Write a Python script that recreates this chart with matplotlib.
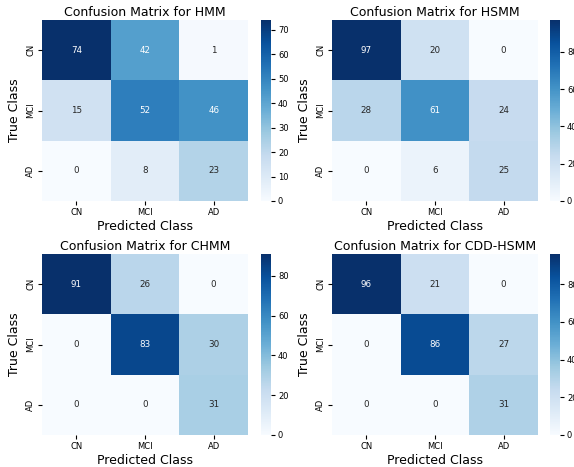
import matplotlib
matplotlib.use("Agg")
import matplotlib.pyplot as plt
import seaborn as sns
import numpy as np

classes = ["CN", "MCI", "AD"]
titles = ["HMM", "HSMM", "CHMM", "CDD-HSMM"]
cm_hmm = [[74, 42, 1], [15, 52, 46], [0, 8, 23]]
cm_hsmm = [[97, 20, 0], [28, 61, 24], [0, 6, 25]]
cm_chmm = [[91, 26, 0], [0, 83, 30], [0, 0, 31]]
cm_cdd = [[96, 21, 0], [0, 86, 27], [0, 0, 31]]
matrices = [cm_hmm, cm_hsmm, cm_chmm, cm_cdd]

W, H = 574, 467
fig = plt.figure(figsize=(W / 100, H / 100), dpi=100)

def rect(x0, y0, x1, y1):
    return [x0 / W, (H - y1) / H, (x1 - x0) / W, (y1 - y0) / H]

layout = [
    ((42, 20, 248, 201), (261, 20, 271, 201)),
    ((332, 20, 538, 201), (550, 20, 560, 201)),
    ((42, 254, 248, 435), (261, 254, 271, 435)),
    ((332, 254, 538, 435), (550, 254, 560, 435)),
]

for mat, title, (hr, cr) in zip(matrices, titles, layout):
    ax = fig.add_axes(rect(*hr))
    cax = fig.add_axes(rect(*cr))
    sns.heatmap(np.array(mat), annot=True, fmt="d", cmap="Blues", ax=ax,
                cbar_ax=cax, xticklabels=classes, yticklabels=classes,
                annot_kws={"fontsize": 6.3})
    ax.set_title(f"Confusion Matrix for {title}", fontsize=9, pad=3)
    ax.set_xlabel("Predicted Class", fontsize=9, labelpad=2)
    ax.set_ylabel("True Class", fontsize=9, labelpad=4)
    ax.tick_params(axis="both", labelsize=6, length=3, width=0.8, pad=2)
    plt.setp(ax.get_yticklabels(), rotation=90, va="center")
    plt.setp(ax.get_xticklabels(), rotation=0)
    cax.tick_params(labelsize=6, length=3, width=0.8, pad=2)
    for sp in cax.spines.values():
        sp.set_visible(False)

fig.savefig("out.png", dpi=100)
